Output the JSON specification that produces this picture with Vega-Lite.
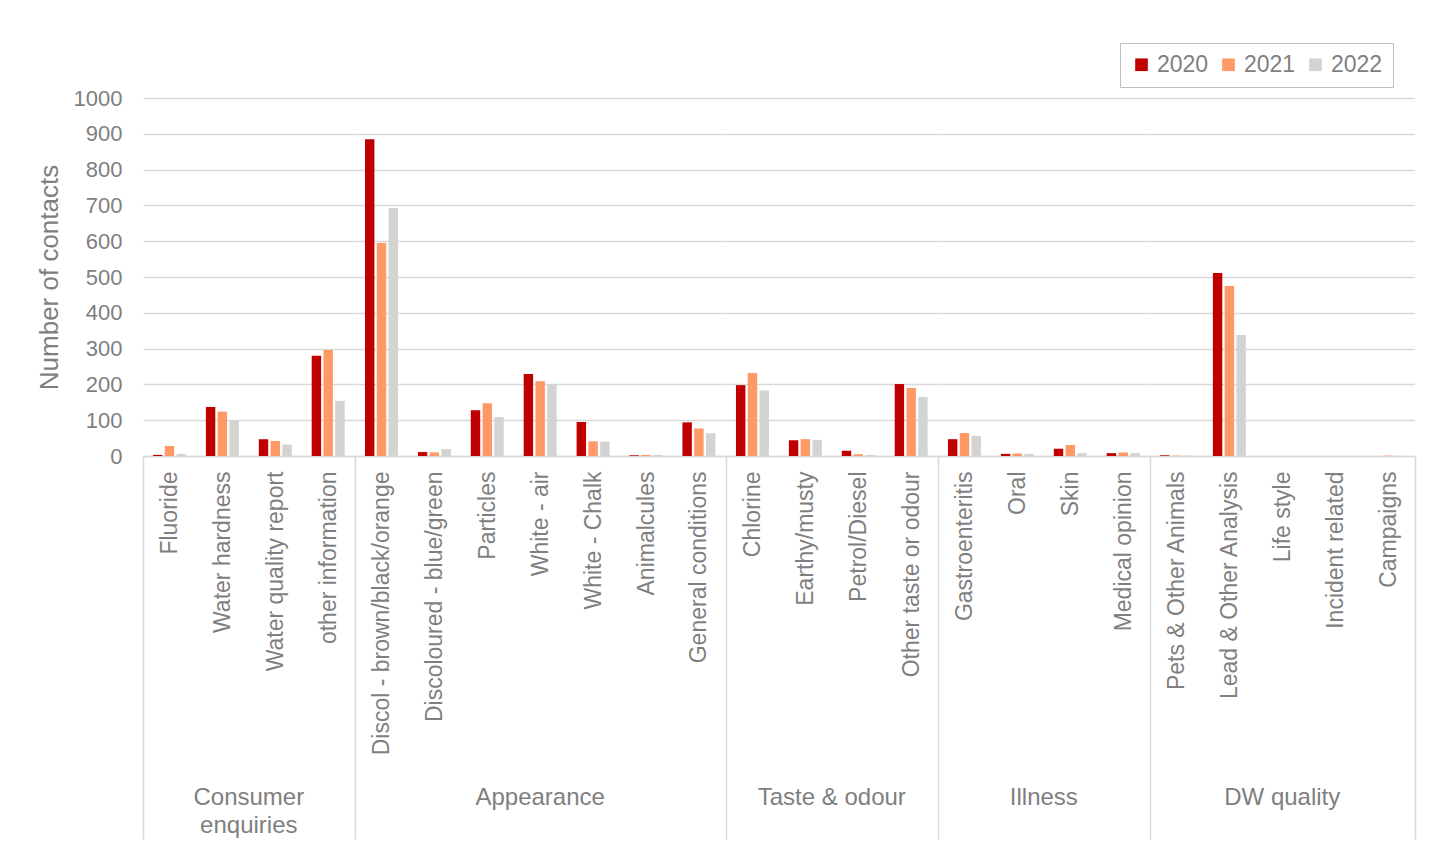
{
  "$schema": "https://vega.github.io/schema/vega-lite/v6.json",
  "background": "white",
  "padding": {"left": 36, "top": 42, "right": 5, "bottom": 0},
  "bounds": "flush",
  "data": {
    "values": [
      {"group": "Consumer enquiries", "category": "Fluoride", "year": "2020", "value": 3},
      {"group": "Consumer enquiries", "category": "Fluoride", "year": "2021", "value": 28},
      {"group": "Consumer enquiries", "category": "Fluoride", "year": "2022", "value": 6},
      {"group": "Consumer enquiries", "category": "Water hardness", "year": "2020", "value": 137},
      {"group": "Consumer enquiries", "category": "Water hardness", "year": "2021", "value": 124},
      {"group": "Consumer enquiries", "category": "Water hardness", "year": "2022", "value": 99},
      {"group": "Consumer enquiries", "category": "Water quality report", "year": "2020", "value": 47},
      {"group": "Consumer enquiries", "category": "Water quality report", "year": "2021", "value": 42},
      {"group": "Consumer enquiries", "category": "Water quality report", "year": "2022", "value": 32},
      {"group": "Consumer enquiries", "category": "other information", "year": "2020", "value": 280},
      {"group": "Consumer enquiries", "category": "other information", "year": "2021", "value": 296},
      {"group": "Consumer enquiries", "category": "other information", "year": "2022", "value": 154},
      {"group": "Appearance", "category": "Discol - brown/black/orange", "year": "2020", "value": 885},
      {"group": "Appearance", "category": "Discol - brown/black/orange", "year": "2021", "value": 595},
      {"group": "Appearance", "category": "Discol - brown/black/orange", "year": "2022", "value": 693},
      {"group": "Appearance", "category": "Discoloured - blue/green", "year": "2020", "value": 11},
      {"group": "Appearance", "category": "Discoloured - blue/green", "year": "2021", "value": 10},
      {"group": "Appearance", "category": "Discoloured - blue/green", "year": "2022", "value": 19},
      {"group": "Appearance", "category": "Particles", "year": "2020", "value": 128},
      {"group": "Appearance", "category": "Particles", "year": "2021", "value": 147},
      {"group": "Appearance", "category": "Particles", "year": "2022", "value": 109},
      {"group": "Appearance", "category": "White - air", "year": "2020", "value": 229},
      {"group": "Appearance", "category": "White - air", "year": "2021", "value": 209},
      {"group": "Appearance", "category": "White - air", "year": "2022", "value": 201},
      {"group": "Appearance", "category": "White - Chalk", "year": "2020", "value": 95},
      {"group": "Appearance", "category": "White - Chalk", "year": "2021", "value": 41},
      {"group": "Appearance", "category": "White - Chalk", "year": "2022", "value": 40},
      {"group": "Appearance", "category": "Animalcules", "year": "2020", "value": 2},
      {"group": "Appearance", "category": "Animalcules", "year": "2021", "value": 3},
      {"group": "Appearance", "category": "Animalcules", "year": "2022", "value": 3},
      {"group": "Appearance", "category": "General conditions", "year": "2020", "value": 94},
      {"group": "Appearance", "category": "General conditions", "year": "2021", "value": 77},
      {"group": "Appearance", "category": "General conditions", "year": "2022", "value": 64},
      {"group": "Taste & odour", "category": "Chlorine", "year": "2020", "value": 198},
      {"group": "Taste & odour", "category": "Chlorine", "year": "2021", "value": 232},
      {"group": "Taste & odour", "category": "Chlorine", "year": "2022", "value": 183},
      {"group": "Taste & odour", "category": "Earthy/musty", "year": "2020", "value": 44},
      {"group": "Taste & odour", "category": "Earthy/musty", "year": "2021", "value": 47},
      {"group": "Taste & odour", "category": "Earthy/musty", "year": "2022", "value": 45},
      {"group": "Taste & odour", "category": "Petrol/Diesel", "year": "2020", "value": 15},
      {"group": "Taste & odour", "category": "Petrol/Diesel", "year": "2021", "value": 5},
      {"group": "Taste & odour", "category": "Petrol/Diesel", "year": "2022", "value": 3},
      {"group": "Taste & odour", "category": "Other taste or odour", "year": "2020", "value": 201},
      {"group": "Taste & odour", "category": "Other taste or odour", "year": "2021", "value": 190},
      {"group": "Taste & odour", "category": "Other taste or odour", "year": "2022", "value": 165},
      {"group": "Illness", "category": "Gastroenteritis", "year": "2020", "value": 47},
      {"group": "Illness", "category": "Gastroenteritis", "year": "2021", "value": 64},
      {"group": "Illness", "category": "Gastroenteritis", "year": "2022", "value": 56},
      {"group": "Illness", "category": "Oral", "year": "2020", "value": 6},
      {"group": "Illness", "category": "Oral", "year": "2021", "value": 7},
      {"group": "Illness", "category": "Oral", "year": "2022", "value": 6},
      {"group": "Illness", "category": "Skin", "year": "2020", "value": 20},
      {"group": "Illness", "category": "Skin", "year": "2021", "value": 31},
      {"group": "Illness", "category": "Skin", "year": "2022", "value": 8},
      {"group": "Illness", "category": "Medical opinion", "year": "2020", "value": 8},
      {"group": "Illness", "category": "Medical opinion", "year": "2021", "value": 10},
      {"group": "Illness", "category": "Medical opinion", "year": "2022", "value": 8},
      {"group": "DW quality", "category": "Pets & Other Animals", "year": "2020", "value": 2},
      {"group": "DW quality", "category": "Pets & Other Animals", "year": "2021", "value": 1},
      {"group": "DW quality", "category": "Pets & Other Animals", "year": "2022", "value": 1},
      {"group": "DW quality", "category": "Lead & Other Analysis", "year": "2020", "value": 511},
      {"group": "DW quality", "category": "Lead & Other Analysis", "year": "2021", "value": 475},
      {"group": "DW quality", "category": "Lead & Other Analysis", "year": "2022", "value": 338},
      {"group": "DW quality", "category": "Life style", "year": "2020", "value": 0},
      {"group": "DW quality", "category": "Life style", "year": "2021", "value": 0},
      {"group": "DW quality", "category": "Life style", "year": "2022", "value": 0},
      {"group": "DW quality", "category": "Incident related", "year": "2020", "value": 0},
      {"group": "DW quality", "category": "Incident related", "year": "2021", "value": 0},
      {"group": "DW quality", "category": "Incident related", "year": "2022", "value": 0},
      {"group": "DW quality", "category": "Campaigns", "year": "2020", "value": 0},
      {"group": "DW quality", "category": "Campaigns", "year": "2021", "value": 1},
      {"group": "DW quality", "category": "Campaigns", "year": "2022", "value": 0}
    ]
  },
  "facet": {
    "column": {
      "field": "group",
      "type": "nominal",
      "sort": ["Consumer enquiries", "Appearance", "Taste & odour", "Illness", "DW quality"],
      "header": {
        "title": null,
        "labelOrient": "bottom",
        "labelPadding": 330,
        "labelFont": "Liberation Sans",
        "labelFontSize": 24,
        "labelColor": "#7f7f7f",
        "labelLineHeight": 28,
        "labelExpr": "datum.value == 'Consumer enquiries' ? ['Consumer', 'enquiries'] : datum.value"
      }
    }
  },
  "spacing": 0,
  "resolve": {"scale": {"x": "independent"}},
  "spec": {
    "width": {"step": 11.78, "for": "offset"},
    "height": 358,
    "mark": {"type": "bar"},
    "encoding": {
      "x": {
        "field": "category",
        "type": "nominal",
        "sort": null,
        "title": null,
        "scale": {"paddingInner": 0, "paddingOuter": 0},
        "axis": {
          "labelAngle": -90,
          "labelFontSize": 23,
          "labelColor": "#7f7f7f",
          "labelPadding": -368,
          "labelLimit": 400,
          "domainColor": "#d9d9d9",
          "domainWidth": 1.5,
          "tickBand": "extent",
          "tickSize": 383,
          "tickWidth": 1.5,
          "tickColor": {"condition": {"test": "datum.extra || datum.value === 'Campaigns'", "value": "#d9d9d9"}, "value": "transparent"}
        }
      },
      "xOffset": {
        "field": "year",
        "type": "nominal",
        "scale": {"paddingInner": 0.2, "paddingOuter": 0.8458}
      },
      "y": {
        "field": "value",
        "type": "quantitative",
        "title": "Number of contacts",
        "scale": {"domain": [0, 1000], "nice": false},
        "axis": {
          "tickCount": 10,
          "format": "d",
          "domain": false,
          "ticks": false,
          "labelPadding": 21,
          "labelFontSize": 22,
          "labelColor": "#7f7f7f",
          "titleFontSize": 26,
          "titleFontWeight": "normal",
          "titleColor": "#7f7f7f",
          "titlePadding": 11,
          "gridColor": "#d9d9d9",
          "gridWidth": 1.5
        }
      },
      "color": {
        "field": "year",
        "type": "nominal",
        "scale": {"domain": ["2020", "2021", "2022"], "range": ["#c00000", "#ff9966", "#d3d3d1"]},
        "legend": {
          "title": null,
          "orient": "none",
          "legendX": 977,
          "legendY": -55,
          "direction": "horizontal",
          "strokeColor": "#bfbfbf",
          "padding": 10,
          "symbolType": "square",
          "symbolSize": 160,
          "symbolStrokeWidth": 0,
          "labelFontSize": 23,
          "labelColor": "#7f7f7f",
          "columnPadding": 8,
          "labelOffset": 4
        }
      }
    }
  },
  "config": {
    "view": {"stroke": null},
    "font": "Liberation Sans"
  }
}
